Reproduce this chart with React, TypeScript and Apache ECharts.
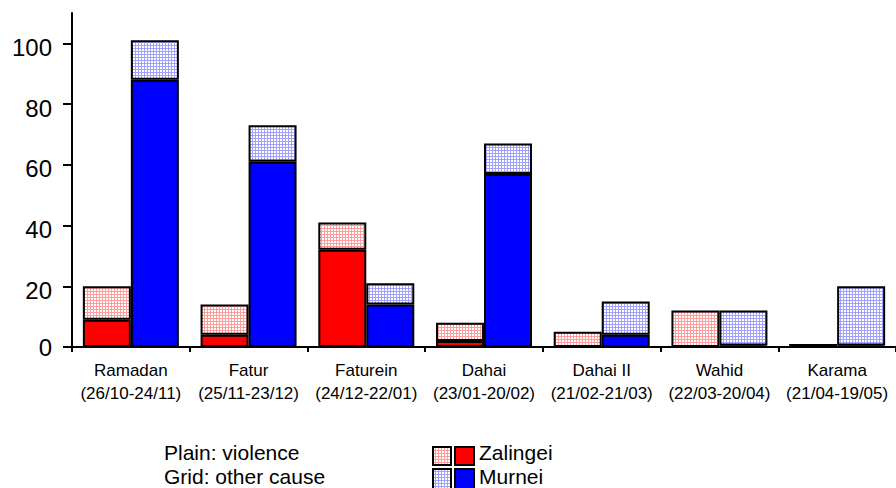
import React, { useEffect, useRef } from "react";
import * as echarts from "echarts";

const operations = ["Ramadan", "Fatur", "Faturein", "Dahai", "Dahai II", "Wahid", "Karama"];
const periods = [
  "(26/10-24/11)",
  "(25/11-23/12)",
  "(24/12-22/01)",
  "(23/01-20/02)",
  "(21/02-21/03)",
  "(22/03-20/04)",
  "(21/04-19/05)",
];
const zalingeiViolence = [9, 4, 32, 2, 0, 0, 0];
const zalingeiOther = [11, 10, 9, 6, 5, 12, 1];
const murneiViolence = [88, 61, 14, 57, 4, 0.5, 0.5];
const murneiOther = [13, 12, 7, 10, 11, 11.5, 19.5];
const yTicks = [0, 20, 40, 60, 80, 100];

const FONT = "'Liberation Sans', Arial, sans-serif";

function makeGrid(line: string) {
  const c = document.createElement("canvas");
  c.width = 3;
  c.height = 3;
  const ctx = c.getContext("2d")!;
  ctx.fillStyle = "#ffffff";
  ctx.fillRect(0, 0, 3, 3);
  ctx.fillStyle = line;
  ctx.fillRect(0, 0, 3, 1);
  ctx.fillRect(0, 0, 1, 3);
  return c;
}

export default function App() {
  const ref = useRef<HTMLDivElement>(null);
  useEffect(() => {
    if (!ref.current) return;
    const chart = echarts.init(ref.current, null, { renderer: "svg" });
    const redGrid = { image: makeGrid("#ff9c9c"), repeat: "repeat" };
    const blueGrid = { image: makeGrid("#a0a0ff"), repeat: "repeat" };
    const border = { borderColor: "#000", borderWidth: 2 };
    const labels = operations.map((o, i) => o + "\n" + periods[i]);
    chart.setOption({
      animation: false,
      grid: { left: 72, top: 13, width: 832, height: 334, containLabel: false },
      xAxis: {
        type: "category",
        data: labels,
        axisLine: { lineStyle: { color: "#000", width: 2 } },
        axisTick: { show: true, length: 5, lineStyle: { color: "#000", width: 2 } },
        axisLabel: {
          interval: 0,
          color: "#000",
          fontFamily: FONT,
          fontSize: 17,
          lineHeight: 23,
          margin: 12,
        },
      },
      yAxis: {
        type: "value",
        min: 0,
        max: 110,
        interval: 20,
        splitLine: { show: false },
        axisLine: { show: true, lineStyle: { color: "#000", width: 2 } },
        axisTick: { show: true, length: 9, lineStyle: { color: "#000", width: 2 }, customValues: yTicks },
        axisLabel: {
          color: "#000",
          fontFamily: FONT,
          fontSize: 24,
          margin: 20,
          customValues: yTicks,
          formatter: (v: number) => (v === 0 ? "{z|0}" : "{n|" + v + "}"),
          rich: {
            z: { fontFamily: FONT, fontSize: 24, color: "#000" },
            n: { fontFamily: FONT, fontSize: 24, color: "#000", padding: [8, 0, 0, 0] },
          },
        },
      },
      series: [
        {
          name: "Zalingei violence",
          type: "bar",
          stack: "z",
          data: zalingeiViolence,
          barWidth: 48,
          barGap: "0%",
          itemStyle: { color: "#ff0000", ...border },
        },
        {
          name: "Zalingei other",
          type: "bar",
          stack: "z",
          data: zalingeiOther,
          barWidth: 48,
          barGap: "0%",
          itemStyle: { color: redGrid, ...border },
        },
        {
          name: "Murnei violence",
          type: "bar",
          stack: "m",
          data: murneiViolence,
          barWidth: 48,
          barGap: "0%",
          itemStyle: { color: "#0000ff", ...border },
        },
        {
          name: "Murnei other",
          type: "bar",
          stack: "m",
          data: murneiOther,
          barWidth: 48,
          barGap: "0%",
          itemStyle: { color: blueGrid, ...border },
        },
      ],
      graphic: [
        {
          type: "text",
          left: 164,
          top: 442,
          style: { text: "Plain: violence", font: `21px ${FONT}`, fill: "#000" },
        },
        {
          type: "text",
          left: 164,
          top: 466,
          style: { text: "Grid: other cause", font: `21px ${FONT}`, fill: "#000" },
        },
        {
          type: "rect",
          shape: { x: 433, y: 447, width: 18, height: 18 },
          style: { fill: redGrid, stroke: "#000", lineWidth: 2 },
        },
        {
          type: "rect",
          shape: { x: 455, y: 447, width: 19, height: 18 },
          style: { fill: "#ff0000", stroke: "#000", lineWidth: 2 },
        },
        {
          type: "rect",
          shape: { x: 433, y: 469, width: 18, height: 22 },
          style: { fill: blueGrid, stroke: "#000", lineWidth: 2 },
        },
        {
          type: "rect",
          shape: { x: 455, y: 469, width: 19, height: 22 },
          style: { fill: "#0000ff", stroke: "#000", lineWidth: 2 },
        },
        {
          type: "text",
          left: 479,
          top: 442,
          style: { text: "Zalingei", font: `21px ${FONT}`, fill: "#000" },
        },
        {
          type: "text",
          left: 479,
          top: 466,
          style: { text: "Murnei", font: `21px ${FONT}`, fill: "#000" },
        },
      ],
    });
    return () => chart.dispose();
  }, []);
  return (
    <div
      ref={ref}
      style={{ position: "fixed", left: 0, top: 0, width: 896, height: 488, background: "#fff" }}
    />
  );
}
